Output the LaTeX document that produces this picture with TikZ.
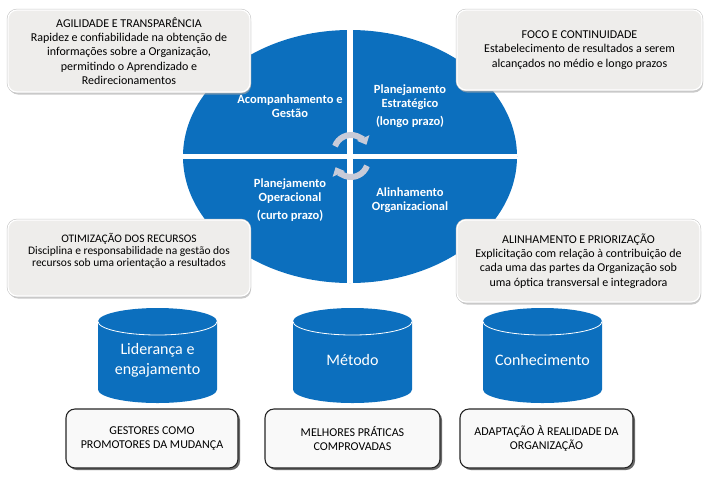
\documentclass[tikz,border=0pt]{standalone}
\usepackage{fontspec}
\setmainfont{Carlito}
\usetikzlibrary{shapes.geometric,shadows,arrows.meta}
\definecolor{ellblue}{RGB}{12,111,190}
\definecolor{boxgray}{RGB}{238,237,235}
\definecolor{arrgray}{RGB}{200,203,216}

\tikzset{
  infobox/.style={rounded corners=9pt, fill=boxgray, draw=white, line width=1.2pt,
    drop shadow={shadow xshift=1pt, shadow yshift=-2.5pt, fill=gray!70, opacity=0.6},
    preaction={draw=gray!45, line width=2.4pt},
    align=center, inner sep=0pt, font=\fontsize{12}{14.3}\selectfont},
  basebox/.style={rounded corners=9pt, fill=gray!5, draw=black!85, line width=1.1pt,
    drop shadow={shadow xshift=2pt, shadow yshift=-2pt, fill=black!65, opacity=0.9},
    align=center, inner sep=0pt, minimum height=59pt, font=\fontsize{12}{14}\selectfont},
  quadtext/.style={text=white, align=center, font=\bfseries\fontsize{12.5}{14}\selectfont},
  cyltext/.style={text=white, align=center, font=\fontsize{16}{20}\selectfont},
  circarrow/.style={arrgray, line width=6pt, -{Triangle[width=13pt,length=7.5pt]}}
}

\begin{document}
\begin{tikzpicture}[x=1pt,y=1pt]
  \useasboundingbox (0,0) rectangle (712,-480);

  % central ellipse cut in four
  \node[ellipse, fill=ellblue, minimum width=334pt, minimum height=253pt, inner sep=0pt] (cycle) at (350,-156.5) {};
  \draw[white, line width=5.5pt] (cycle.north) -- (cycle.south);
  \draw[white, line width=5.5pt] (cycle.west) -- (cycle.east);

  \node[quadtext] (acomp) at (290,-106) {Acompanhamento e\\Gestão};
  \node[quadtext] (estrat) at (410,-106) {Planejamento\\Estratégico\\[4pt](longo prazo)};
  \node[quadtext] (operac) at (290,-200) {Planejamento\\Operacional\\[4pt](curto prazo)};
  \node[quadtext] (alinh) at (410,-200) {Alinhamento\\Organizacional};

  % turning arrows in the middle
  \draw[circarrow, shift={(351,-152)}] (160:17) arc[start angle=160, end angle=25, radius=17];
  \draw[circarrow, shift={(351,-160)}] (-20:17) arc[start angle=-20, end angle=-155, radius=17];

  % boxes round the ellipse
  \node[infobox, minimum width=242pt, minimum height=82pt] (agil) at (129,-51)
    {AGILIDADE E TRANSPARÊNCIA\\Rapidez e confiabilidade na obtenção de\\informações sobre a Organização,\\permitindo o Aprendizado e\\Redirecionamentos};
  \node[infobox, minimum width=245pt, minimum height=80pt] (foco) at (579.5,-50)
    {FOCO E CONTINUIDADE\\Estabelecimento de resultados a serem\\alcançados no médio e longo prazos};
  \node[infobox, minimum width=242pt, minimum height=76pt, font=\fontsize{11.5}{12}\selectfont] (otim) at (129,-258)
    {OTIMIZAÇÃO DOS RECURSOS\\Disciplina e responsabilidade na gestão dos\\recursos sob uma orientação a resultados\\[4pt]};
  \node[infobox, minimum width=243pt, minimum height=82pt] (prior) at (578.5,-261)
    {ALINHAMENTO E PRIORIZAÇÃO\\Explicitação com relação à contribuição de\\cada uma das partes da Organização sob\\uma óptica transversal e integradora};

  % cylinders
  \foreach \cx in {157.5,352.5,542.5} {
    \fill[ellblue] (\cx-59.5,-321.5) -- (\cx-59.5,-389.5)
      arc[start angle=180, end angle=360, x radius=59.5, y radius=13.5]
      -- (\cx+59.5,-321.5)
      arc[start angle=0, end angle=180, x radius=59.5, y radius=13.5] -- cycle;
    \draw[white, line width=0.8pt] (\cx-59.5,-321.5)
      arc[start angle=180, end angle=360, x radius=59.5, y radius=13.5];
  }
  \node[cyltext] (lider) at (157.5,-360) {Liderança e\\engajamento};
  \node[cyltext] (metodo) at (352.5,-360) {Método};
  \node[cyltext] (conhec) at (542.5,-360) {Conhecimento};

  % boxes under the cylinders
  \node[basebox, minimum width=172pt] (gestores) at (152,-438.5) {GESTORES COMO\\PROMOTORES DA MUDANÇA};
  \node[basebox, minimum width=175pt] (praticas) at (352.5,-438.5) {MELHORES PRÁTICAS\\COMPROVADAS};
  \node[basebox, minimum width=173pt] (adapt) at (546.5,-438.5) {ADAPTAÇÃO À REALIDADE DA\\ORGANIZAÇÃO};

\end{tikzpicture}
\end{document}
